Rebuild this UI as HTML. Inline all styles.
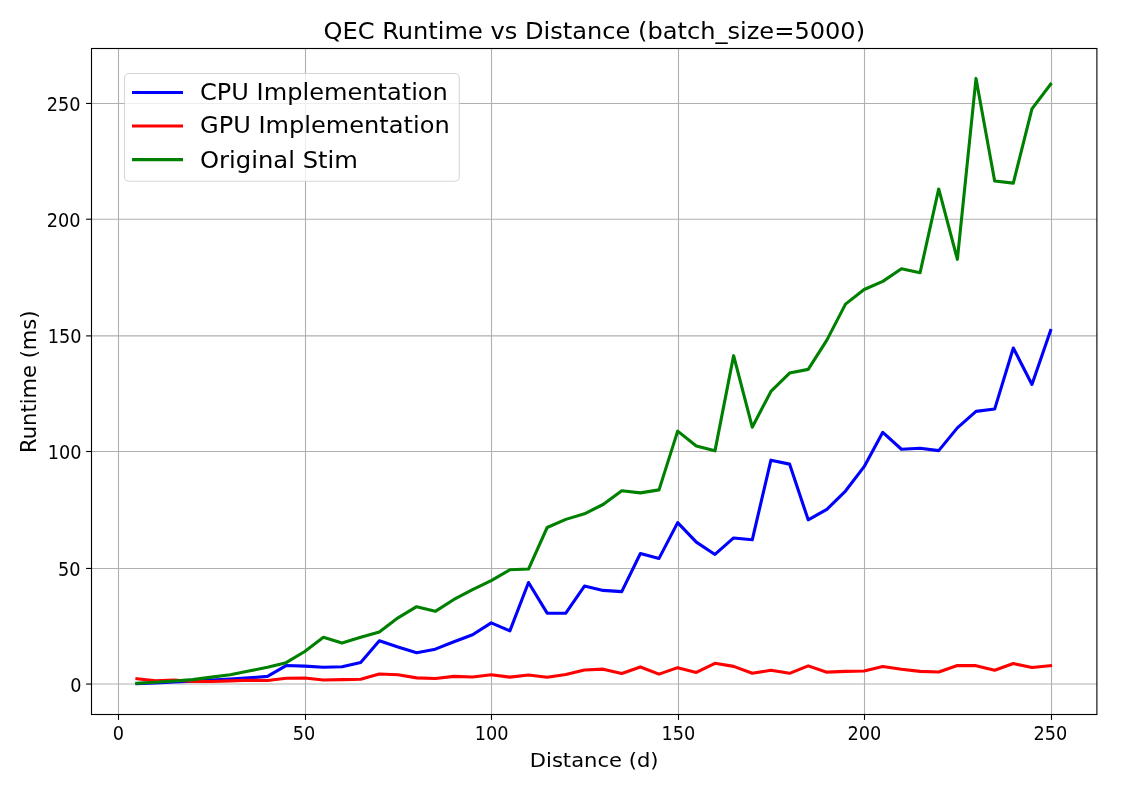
<!DOCTYPE html>
<html lang="en"><head><meta charset="utf-8"><title>QEC Runtime vs Distance</title>
<style>html,body{margin:0;padding:0;background:#fff;}body{width:1136px;height:796px;overflow:hidden;}svg{display:block;}text{font-family:"DejaVu Sans","Liberation Sans",sans-serif;fill:#000;}</style></head><body>
<svg width="1136" height="796" viewBox="0 0 1136 796">
<rect width="1136" height="796" fill="#fff"/>
<g stroke="#b0b0b0" stroke-width="1.11" fill="none">
<line x1="118.5" y1="48.5" x2="118.5" y2="714.5"/>
<line x1="305.5" y1="48.5" x2="305.5" y2="714.5"/>
<line x1="491.5" y1="48.5" x2="491.5" y2="714.5"/>
<line x1="678.5" y1="48.5" x2="678.5" y2="714.5"/>
<line x1="864.5" y1="48.5" x2="864.5" y2="714.5"/>
<line x1="1051.5" y1="48.5" x2="1051.5" y2="714.5"/>
<line x1="91.5" y1="684.05" x2="1096.9" y2="684.05"/>
<line x1="91.5" y1="568.45" x2="1096.9" y2="568.45"/>
<line x1="91.5" y1="451.5" x2="1096.9" y2="451.5"/>
<line x1="91.5" y1="335.9" x2="1096.9" y2="335.9"/>
<line x1="91.5" y1="219.2" x2="1096.9" y2="219.2"/>
<line x1="91.5" y1="103.45" x2="1096.9" y2="103.45"/>
</g>
<g stroke="#000" stroke-width="1.11" fill="none">
<line x1="118.5" y1="714.5" x2="118.5" y2="719.9"/>
<line x1="305.5" y1="714.5" x2="305.5" y2="719.9"/>
<line x1="491.5" y1="714.5" x2="491.5" y2="719.9"/>
<line x1="678.5" y1="714.5" x2="678.5" y2="719.9"/>
<line x1="864.5" y1="714.5" x2="864.5" y2="719.9"/>
<line x1="1051.5" y1="714.5" x2="1051.5" y2="719.9"/>
<line x1="86.1" y1="684.05" x2="91.5" y2="684.05"/>
<line x1="86.1" y1="568.45" x2="91.5" y2="568.45"/>
<line x1="86.1" y1="451.5" x2="91.5" y2="451.5"/>
<line x1="86.1" y1="335.9" x2="91.5" y2="335.9"/>
<line x1="86.1" y1="219.2" x2="91.5" y2="219.2"/>
<line x1="86.1" y1="103.45" x2="91.5" y2="103.45"/>
</g>
<clipPath id="c"><rect x="91.5" y="48.5" width="1005.4000000000001" height="666.0"/></clipPath>
<g clip-path="url(#c)" fill="none" stroke-width="3.1" stroke-linejoin="round" stroke-linecap="square">
<polyline stroke="#0000ff" points="136.95,683.65 155.59,682.84 174.24,681.91 192.88,681.21 211.53,680.12 230.18,679.12 248.82,677.85 267.47,676.34 286.11,665.54 304.76,666.12 323.41,667.28 342.05,666.82 360.70,662.41 379.34,640.81 397.99,647.08 416.64,652.65 435.28,649.17 453.93,641.74 472.57,634.77 491.22,622.93 509.87,630.83 528.51,582.53 547.16,613.18 565.80,613.18 584.45,586.01 603.10,590.42 621.74,591.58 640.39,553.50 659.03,558.38 677.68,522.62 696.33,542.13 714.97,554.43 733.62,537.95 752.26,539.80 770.91,460.16 789.56,464.11 808.20,519.83 826.85,509.39 845.49,491.04 864.14,466.66 882.79,432.30 901.43,449.25 920.08,448.32 938.72,450.64 957.37,427.88 976.02,411.40 994.66,409.08 1013.31,348.01 1031.95,384.46 1050.60,330.36"/>
<polyline stroke="#ff0000" points="136.95,678.73 155.59,680.84 174.24,679.96 192.88,681.54 211.53,681.54 230.18,680.84 248.82,680.28 267.47,680.52 286.11,678.20 304.76,677.96 323.41,680.05 342.05,679.59 360.70,679.24 379.34,674.02 397.99,674.71 416.64,677.85 435.28,678.43 453.93,676.34 472.57,677.03 491.22,674.71 509.87,677.15 528.51,674.94 547.16,677.27 565.80,674.48 584.45,669.95 603.10,669.14 621.74,673.55 640.39,667.05 659.03,674.13 677.68,667.63 696.33,672.39 714.97,663.33 733.62,666.35 752.26,673.32 770.91,670.30 789.56,673.32 808.20,665.89 826.85,672.16 845.49,671.35 864.14,671.00 882.79,666.59 901.43,669.26 920.08,671.35 938.72,671.93 957.37,665.54 976.02,665.66 994.66,670.30 1013.31,663.57 1031.95,667.51 1050.60,665.66"/>
<polyline stroke="#008000" points="136.95,683.30 155.59,682.24 174.24,680.98 192.88,679.59 211.53,677.15 230.18,674.71 248.82,671.00 267.47,667.28 286.11,662.64 304.76,651.49 323.41,637.33 342.05,642.90 360.70,637.33 379.34,631.99 397.99,617.82 416.64,606.68 435.28,611.32 453.93,599.48 472.57,589.73 491.22,580.67 509.87,569.76 528.51,569.06 547.16,527.50 565.80,519.37 584.45,513.80 603.10,504.51 621.74,490.81 640.39,492.90 659.03,489.88 677.68,431.13 696.33,446.00 714.97,450.87 733.62,355.67 752.26,427.19 770.91,391.43 789.56,373.08 808.20,369.37 826.85,340.11 845.49,304.12 864.14,289.49 882.79,281.37 901.43,268.83 920.08,272.77 938.72,188.95 957.37,259.31 976.02,78.42 994.66,181.05 1013.31,183.14 1031.95,108.84 1050.60,84.23"/>
</g>
<rect x="91.5" y="48.5" width="1005.4000000000001" height="666.0" fill="none" stroke="#000" stroke-width="1.11"/>
<text x="118.50" y="739.90" font-size="19.8px" text-anchor="middle" textLength="11.27" lengthAdjust="spacingAndGlyphs">0</text>
<text x="303.90" y="739.90" font-size="19.8px" text-anchor="middle" textLength="22.55" lengthAdjust="spacingAndGlyphs">50</text>
<text x="491.55" y="739.90" font-size="19.8px" text-anchor="middle" textLength="33.82" lengthAdjust="spacingAndGlyphs">100</text>
<text x="678.45" y="739.90" font-size="19.8px" text-anchor="middle" textLength="33.82" lengthAdjust="spacingAndGlyphs">150</text>
<text x="864.45" y="739.90" font-size="19.8px" text-anchor="middle" textLength="33.82" lengthAdjust="spacingAndGlyphs">200</text>
<text x="1050.50" y="739.90" font-size="19.8px" text-anchor="middle" textLength="33.82" lengthAdjust="spacingAndGlyphs">250</text>
<text x="81.50" y="691.50" font-size="19.8px" text-anchor="end" textLength="11.27" lengthAdjust="spacingAndGlyphs">0</text>
<text x="80.60" y="575.90" font-size="19.8px" text-anchor="end" textLength="22.55" lengthAdjust="spacingAndGlyphs">50</text>
<text x="81.50" y="458.95" font-size="19.8px" text-anchor="end" textLength="33.82" lengthAdjust="spacingAndGlyphs">100</text>
<text x="81.50" y="343.35" font-size="19.8px" text-anchor="end" textLength="33.82" lengthAdjust="spacingAndGlyphs">150</text>
<text x="80.60" y="226.65" font-size="19.8px" text-anchor="end" textLength="33.82" lengthAdjust="spacingAndGlyphs">200</text>
<text x="80.60" y="110.90" font-size="19.8px" text-anchor="end" textLength="33.82" lengthAdjust="spacingAndGlyphs">250</text>
<text x="594.15" y="767.20" font-size="20.0px" text-anchor="middle" textLength="128.70" lengthAdjust="spacingAndGlyphs">Distance (d)</text>
<text x="0.00" y="0.00" font-size="21.0px" text-anchor="middle" textLength="142.46" lengthAdjust="spacingAndGlyphs" transform="translate(35.9,381.7) rotate(-90)">Runtime (ms)</text>
<text x="594.30" y="38.80" font-size="22.22px" text-anchor="middle" textLength="541.62" lengthAdjust="spacingAndGlyphs">QEC Runtime vs Distance (batch_size=5000)</text>
<rect x="124.5" y="73.5" width="334.8" height="107.69999999999999" rx="4.4" ry="4.4" fill="#fff" fill-opacity="0.8" stroke="#cccccc" stroke-opacity="0.8" stroke-width="1.11"/>
<line x1="132" y1="92.54" x2="183" y2="92.54" stroke="#0000ff" stroke-width="3.1"/>
<text x="200.00" y="99.70" font-size="23.0px" text-anchor="start" textLength="247.83" lengthAdjust="spacingAndGlyphs">CPU Implementation</text>
<line x1="132" y1="126.06" x2="183" y2="126.06" stroke="#ff0000" stroke-width="3.1"/>
<text x="200.00" y="133.00" font-size="23.0px" text-anchor="start" textLength="249.68" lengthAdjust="spacingAndGlyphs">GPU Implementation</text>
<line x1="132" y1="159.63" x2="183" y2="159.63" stroke="#008000" stroke-width="3.1"/>
<text x="200.00" y="167.75" font-size="23.0px" text-anchor="start" textLength="157.96" lengthAdjust="spacingAndGlyphs">Original Stim</text>
</svg></body></html>
